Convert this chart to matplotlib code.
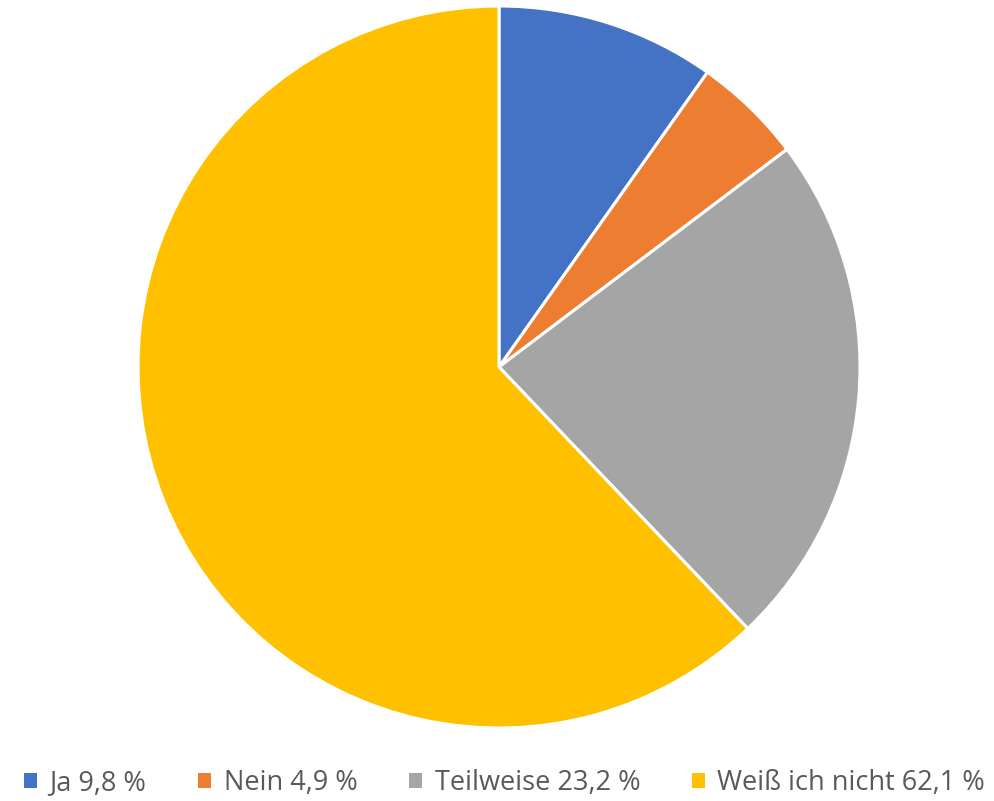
import matplotlib.pyplot as plt
from matplotlib.patches import Patch

labels = ["Ja 9,8 %", "Nein 4,9 %", "Teilweise 23,2 %", "Weiß ich nicht 62,1 %"]
values = [9.8, 4.9, 23.2, 62.1]
colors = ["#4472C4", "#ED7D31", "#A5A5A5", "#FFC000"]

plt.rcParams["font.family"] = ["Open Sans", "DejaVu Sans"]

fig = plt.figure(figsize=(9.95, 8.01), dpi=100)
W, H = 995, 801
cx, cy, r = 499, 367, 361
ax = fig.add_axes([(cx - r) / W, (H - cy - r) / H, 2 * r / W, 2 * r / H])

ax.pie(values, colors=colors, startangle=90, counterclock=False,
       wedgeprops=dict(edgecolor="white", linewidth=2.2))
ax.set_xlim(-1, 1)
ax.set_ylim(-1, 1)
ax.set_aspect("equal")

handles = [Patch(facecolor=c, edgecolor="none") for c in colors]
fig.legend(handles, labels, loc="center", bbox_to_anchor=(0.507, (H - 783) / H),
           ncol=4, frameon=False, fontsize=19.5, labelcolor="#595959",
           handlelength=0.5, handleheight=0.5, handletextpad=0.45,
           columnspacing=1.9)

fig.savefig("out.png", dpi=100)
